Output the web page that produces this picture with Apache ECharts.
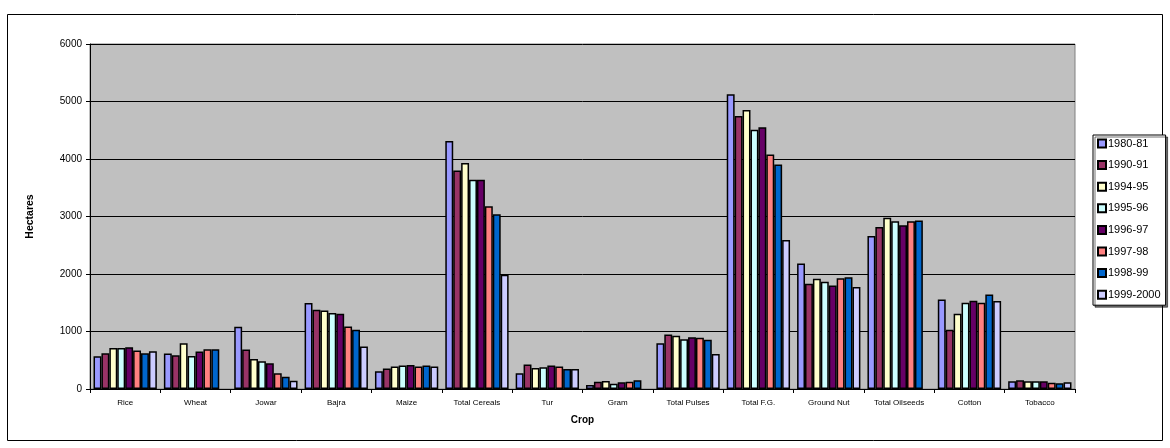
<!DOCTYPE html>
<html>
<head>
<meta charset="utf-8">
<script src="https://cdn.jsdelivr.net/npm/echarts@6/dist/echarts.min.js"></script>
<style>
  html, body { margin: 0; padding: 0; background: #fff; }
  #chart { width: 1170px; height: 448px; }
</style>
</head>
<body>
<div id="chart"></div>
<script>
// Crop area by season (hectares)
const crops = ['Rice', 'Wheat', 'Jowar', 'Bajra', 'Maize', 'Total Cereals', 'Tur', 'Gram',
  'Total Pulses', 'Total F.G.', 'Ground Nut', 'Total Oilseeds', 'Cotton', 'Tobacco'];

const seasons = ['1980-81', '1990-91', '1994-95', '1995-96', '1996-97', '1997-98', '1998-99', '1999-2000'];

const y1980 = [570, 616, 1081, 1494, 308, 4315, 273, 70, 797, 5128, 2181, 2661, 1558, 134];
const y1990 = [622, 587, 686, 1378, 355, 3802, 424, 128, 948, 4749, 1830, 2819, 1029, 151];
const y1994 = [715, 797, 523, 1366, 390, 3930, 366, 140, 924, 4854, 1918, 2977, 1308, 134];
const y1995 = [715, 576, 483, 1320, 407, 3638, 378, 93, 866, 4510, 1865, 2918, 1500, 134];
const y1996 = [727, 651, 448, 1308, 419, 3638, 407, 116, 901, 4551, 1801, 2848, 1535, 134];
const y1997 = [669, 692, 273, 1087, 390, 3178, 390, 128, 890, 4078, 1924, 2918, 1500, 110];
const y1998 = [622, 692, 215, 1029, 407, 3038, 349, 151, 855, 3903, 1942, 2930, 1645, 99];
const y1999 = [657, null, 145, 738, 390, 1988, 349, null, 610, 2590, 1772, null, 1529, 116];

const yTicks = [0, 1000, 2000, 3000, 4000, 5000, 6000];

const seriesValues = [y1980, y1990, y1994, y1995, y1996, y1997, y1998, y1999];
const palette = ['#9999FF', '#993366', '#FFFFCC', '#CCFFFF', '#660066', '#FF8080', '#0066CC', '#CCCCFF'];

const chart = echarts.init(document.getElementById('chart'), null, { renderer: 'canvas' });

const series = seasons.map((name, i) => ({
  name: name,
  type: 'bar',
  data: seriesValues[i].map(v => (v === null ? '-' : v)),
  barGap: '0%',
  barCategoryGap: '10%',
  itemStyle: { color: palette[i], borderColor: '#000', borderWidth: 1.5 }
}));

chart.setOption({
  animation: false,
  backgroundColor: '#fff',
  textStyle: { fontFamily: 'Liberation Sans, Arial, sans-serif' },
  graphic: [{
    type: 'rect',
    shape: { x: 7.5, y: 14.5, width: 1155, height: 426 },
    style: { fill: 'none', stroke: '#000', lineWidth: 1 },
    z: -1
  }],
  grid: {
    left: 90, top: 44, width: 985, height: 345,
    show: true, backgroundColor: '#C0C0C0', borderColor: '#808080', borderWidth: 1
  },
  legend: {
    orient: 'vertical',
    left: 1093, top: 135,
    itemWidth: 8, itemHeight: 8, itemGap: 10.6,
    padding: [3, 5, 5, 4],
    backgroundColor: '#fff',
    borderColor: '#000', borderWidth: 1,
    shadowColor: 'rgba(0,0,0,0.55)', shadowOffsetX: 2, shadowOffsetY: 2, shadowBlur: 0,
    textStyle: { fontSize: 11, color: '#000', padding: [0, 0, 0, -3] },
    icon: 'rect',
    data: seasons
  },
  xAxis: {
    type: 'category',
    data: crops,
    name: 'Crop',
    nameLocation: 'middle',
    nameGap: 26,
    nameTextStyle: { fontSize: 10, fontWeight: 'bold', color: '#000' },
    axisLine: { lineStyle: { color: '#000' } },
    axisTick: { show: true, alignWithLabel: false, length: 4, lineStyle: { color: '#000' } },
    axisLabel: { fontSize: 8, color: '#000', margin: 10, interval: 0 }
  },
  yAxis: {
    type: 'value',
    min: yTicks[0], max: yTicks[yTicks.length - 1], interval: 1000,
    name: 'Hectares',
    nameLocation: 'middle',
    nameGap: 54,
    nameTextStyle: { fontSize: 10.5, fontWeight: 'bold', color: '#000' },
    axisLine: { show: true, lineStyle: { color: '#000' } },
    axisTick: { show: true, length: 4, lineStyle: { color: '#000' } },
    axisLabel: { fontSize: 10, color: '#000', margin: 8, formatter: v => String(v) },
    splitLine: { lineStyle: { color: '#000', width: 1 } }
  },
  series: series
});
</script>
</body>
</html>
